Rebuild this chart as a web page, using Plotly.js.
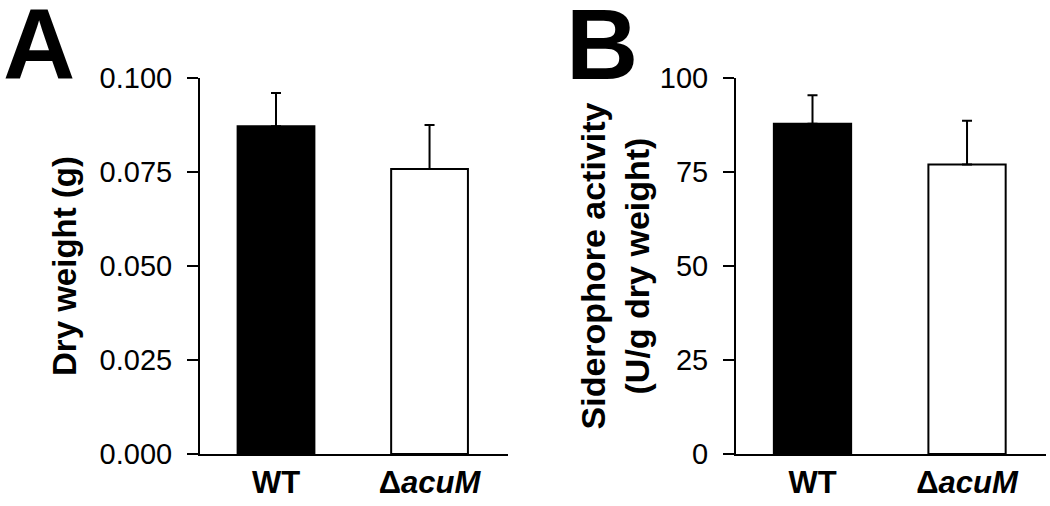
<!DOCTYPE html>
<html>
<head>
<meta charset="utf-8">
<script src="https://cdn.plot.ly/plotly-3.0.1.min.js"></script>
<style>html,body{margin:0;padding:0;background:#fff;}#chart{width:1050px;height:506px;}</style>
</head>
<body>
<div id="chart"></div>
<script>
// ---- data ----
const categories = ['WT', 'ΔacuM'];
const tickLabels = ['WT', 'Δ<i>acuM</i>'];
const dryWeight = [0.0872, 0.0758];
const dryWeightErr = [0.0088, 0.0117];
const siderophore = [87.8, 77.0];
const siderophoreErr = [7.6, 11.6];
const barColors = ['#000000', '#ffffff'];
const yTicksA = [0, 0.025, 0.05, 0.075, 0.1];
const yTickTextA = ['0.000', '0.025', '0.050', '0.075', '0.100'];
const yTicksB = [0, 25, 50, 75, 100];
const yTickTextB = ['0', '25', '50', '75', '100'];

const FONT = 'Liberation Sans, Arial, sans-serif';
const W = 1050;

function barTrace(y, err, xa, ya) {
  return {
    type: 'bar', x: categories, y: y, xaxis: xa, yaxis: ya,
    width: 0.5,
    marker: {color: barColors, line: {color: '#000', width: 2}},
    error_y: {type: 'data', symmetric: false, array: err, arrayminus: [0, 0],
              color: '#000', thickness: 2, width: 5},
    hoverinfo: 'skip'
  };
}

const data = [
  barTrace(dryWeight, dryWeightErr, 'x', 'y'),
  barTrace(siderophore, siderophoreErr, 'x2', 'y2')
];

function xAxis(domain, anchor) {
  return {
    domain: domain, anchor: anchor, type: 'category',
    range: [-0.495, 1.511],
    tickvals: categories, ticktext: tickLabels, ticks: '',
    showline: true, linewidth: 2, linecolor: '#000',
    showgrid: false, zeroline: false, fixedrange: true,
    tickfont: {family: FONT, size: 31, color: '#000', weight: 'bold'},
    ticklabelstandoff: 0
  };
}
function yAxis(anchor, range, tv, tt, title, tsize, standoff) {
  return {
    anchor: anchor, domain: [0, 1], range: range,
    tickvals: tv, ticktext: tt,
    ticks: 'outside', ticklen: 11, tickwidth: 2, tickcolor: '#000',
    showline: true, linewidth: 2, linecolor: '#000',
    showgrid: false, zeroline: false, fixedrange: true,
    tickfont: {family: FONT, size: 29, color: '#000'},
    ticklabelstandoff: 9,
    title: {text: title, font: {family: FONT, size: tsize, color: '#000', weight: 'bold'}, standoff: standoff}
  };
}

const layout = {
  width: 1050, height: 506,
  margin: {l: 0, r: 0, t: 78, b: 52},
  paper_bgcolor: '#fff', plot_bgcolor: '#fff',
  showlegend: false,
  xaxis: xAxis([200 / W, 508 / W], 'y'),
  yaxis: yAxis('x', [0, 0.1], yTicksA, yTickTextA, 'Dry weight (g)', 33, 13),
  xaxis2: xAxis([736 / W, 1046 / W], 'y2'),
  yaxis2: yAxis('x2', [0, 100], yTicksB, yTickTextB, 'Siderophore activity<br>(U/g dry weight)', 34, 0),
  annotations: [
    {text: 'A', xref: 'paper', yref: 'paper', x: 1 / W, xanchor: 'left',
     y: 1.09, yanchor: 'middle', showarrow: false,
     font: {family: FONT, size: 100, color: '#000', weight: 'bold'}},
    {text: 'B', xref: 'paper', yref: 'paper', x: 564 / W, xanchor: 'left',
     y: 1.09, yanchor: 'middle', showarrow: false,
     font: {family: FONT, size: 100, color: '#000', weight: 'bold'}}
  ]
};

Plotly.newPlot('chart', data, layout, {staticPlot: true, displayModeBar: false});
</script>
</body>
</html>
